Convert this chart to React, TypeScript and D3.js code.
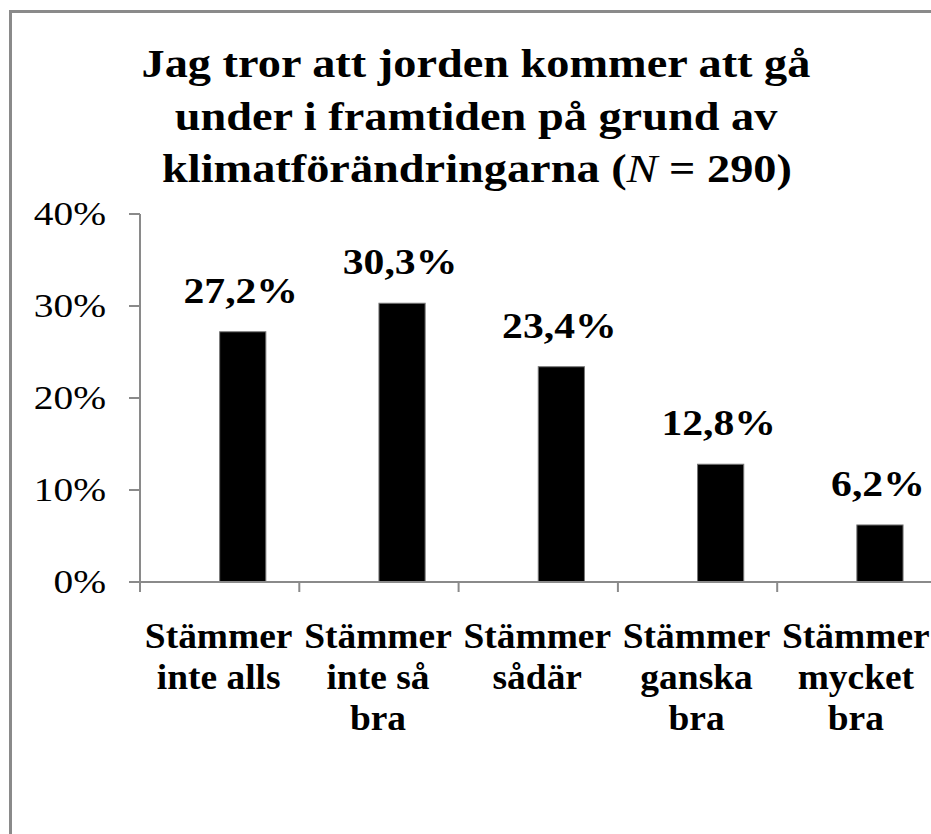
import React from "react";
import * as d3 from "d3";

const categories: string[][] = [
  ["Stämmer", "inte alls"],
  ["Stämmer", "inte så", "bra"],
  ["Stämmer", "sådär"],
  ["Stämmer", "ganska", "bra"],
  ["Stämmer", "mycket", "bra"],
];
const values: number[] = [27.2, 30.3, 23.4, 12.8, 6.2];
const valueLabels: string[] = ["27,2%", "30,3%", "23,4%", "12,8%", "6,2%"];
const yTicks: number[] = [0, 10, 20, 30, 40];
const titleLines: string[] = [
  "Jag tror att jorden kommer att gå",
  "under i framtiden på grund av",
];

const W = 931;
const H = 834;
const FONT = "Liberation Serif";

function St(props: {
  x: number;
  y: number;
  sx: number;
  size: number;
  bold?: boolean;
  anchor?: string;
  children: React.ReactNode;
}) {
  return (
    <text
      transform={`translate(${props.x},${props.y}) scale(${props.sx},1)`}
      textAnchor={props.anchor || "middle"}
      style={{ fontFamily: FONT, fontWeight: props.bold ? 700 : 400, fontSize: props.size }}
      fill="#000"
    >
      {props.children}
    </text>
  );
}

export default function App() {
  const keys = categories.map((_, i) => String(i));
  const x = d3.scaleBand<string>().domain(keys).range([140, 140 + 5 * 159.3]).padding(0);
  const y = d3.scaleLinear().domain([0, 40]).range([582, 214]);
  const bw = x.bandwidth();
  const boundaries = keys.map((k) => x(k) as number).concat([x.range()[1]]);

  return (
    <svg width={W} height={H} style={{ position: "absolute", left: 0, top: 0 }}>
      <rect x={0} y={0} width={W} height={H} fill="#fff" />
      <rect x={10.5} y={11.5} width={W + 20} height={H + 20} fill="none" stroke="#8a8a8a" strokeWidth={3} />

      {/* Title */}
      {titleLines.map((t, i) => (
        <St key={i} x={476} y={77 + i * 52.5} sx={1.13} size={41} bold>
          {t}
        </St>
      ))}
      <St x={477} y={182} sx={1.13} size={41} bold>
        klimatförändringarna (<tspan style={{ fontStyle: "italic", fontWeight: 400 }}>N</tspan> = 290)
      </St>

      {/* Y axis */}
      <line x1={140} x2={140} y1={y(40)} y2={y(0)} stroke="#8a8a8a" strokeWidth={2} />
      {yTicks.map((t) => (
        <g key={t}>
          <line x1={129} x2={140} y1={y(t)} y2={y(t)} stroke="#8a8a8a" strokeWidth={2} />
          <St x={106} y={y(t) + 11} sx={1.16} size={34} anchor="end">
            {t}%
          </St>
        </g>
      ))}

      {/* Bars */}
      {values.map((v, i) => {
        const bx = (x(keys[i]) as number) + bw * 0.5;
        const barW = bw * 0.29;
        return (
          <g key={i}>
            <rect
              x={bx}
              y={y(v)}
              width={barW}
              height={y(0) - y(v)}
              fill="#000"
              stroke="#777"
              strokeWidth={1}
            />
            <St x={bx + barW / 2 - 2} y={y(v) - 29} sx={1.19} size={35} bold>
              {valueLabels[i]}
            </St>
          </g>
        );
      })}

      {/* X axis */}
      <line x1={140} x2={W} y1={y(0)} y2={y(0)} stroke="#8a8a8a" strokeWidth={2} />
      {boundaries.map((b, i) => (
        <line key={i} x1={b} x2={b} y1={y(0)} y2={y(0) + 10} stroke="#8a8a8a" strokeWidth={2} />
      ))}
      {categories.map((lines, i) =>
        lines.map((l, j) => (
          <St
            key={i + "-" + j}
            x={(x(keys[i]) as number) + bw / 2 - 1}
            y={648 + j * 41}
            sx={1.07}
            size={35}
            bold
          >
            {l}
          </St>
        ))
      )}
    </svg>
  );
}
